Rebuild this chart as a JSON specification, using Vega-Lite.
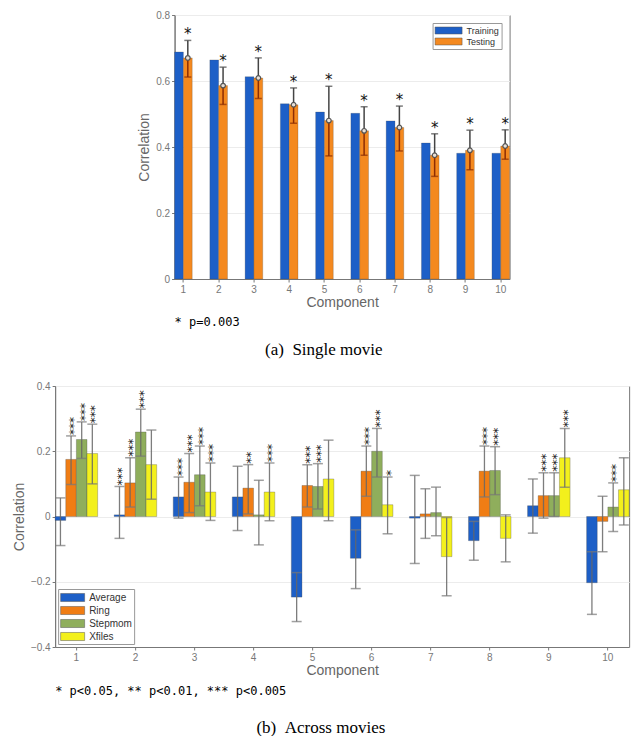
{
  "$schema": "https://vega.github.io/schema/vega-lite/v6.json",
  "padding": {"top": 9, "left": 11, "right": 4, "bottom": 0},
  "center": true,
  "spacing": 22,
  "resolve": {"scale": {"x": "independent", "y": "independent", "color": "independent", "xOffset": "independent"}, "legend": {"color": "independent"}, "axis": {"x": "independent", "y": "independent"}},
  "config": {
    "font": "Liberation Sans",
    "view": {"stroke": "#777", "strokeWidth": 1},
    "axis": {"domainColor": "#777", "tickColor": "#777", "labelColor": "#777", "labelFontSize": 10, "labelFont": "Liberation Sans", "titleColor": "#666", "titleFontSize": 14, "titleFontWeight": "normal", "titleFont": "Liberation Sans", "tickSize": 3, "labelPadding": 2, "gridColor": "#ececec"},
    "axisX": {"grid": false, "labelAngle": 0, "titlePadding": 1},
    "axisY": {"grid": true, "titlePadding": 4},
    "legend": {"labelFont": "Liberation Sans", "labelColor": "#333", "strokeColor": "#999", "fillColor": "white", "padding": 2, "rowPadding": 1, "symbolStrokeWidth": 0.5, "symbolStrokeColor": "#555"},
    "title": {"fontWeight": "normal"}
  },
  "vconcat": [
    {
      "title": {"text": "(a)\u2002Single movie", "orient": "bottom", "anchor": "middle", "font": "Liberation Serif", "fontSize": 17, "color": "black", "offset": 13},
      "resolve": {"scale": {"color": "independent"}, "legend": {"color": "independent"}},
      "vconcat": [
        {
          "width": 335,
          "height": 264,
          "title": {"text": "* p=0.003", "orient": "bottom", "anchor": "start", "frame": "group", "font": "DejaVu Sans Mono", "fontSize": 12, "color": "black", "offset": 8},
          "data": {"values": [
            {"comp": 1, "Series": "Training", "value": 0.688},
            {"comp": 2, "Series": "Training", "value": 0.664},
            {"comp": 3, "Series": "Training", "value": 0.613},
            {"comp": 4, "Series": "Training", "value": 0.531},
            {"comp": 5, "Series": "Training", "value": 0.506},
            {"comp": 6, "Series": "Training", "value": 0.502},
            {"comp": 7, "Series": "Training", "value": 0.479},
            {"comp": 8, "Series": "Training", "value": 0.412},
            {"comp": 9, "Series": "Training", "value": 0.381},
            {"comp": 10, "Series": "Training", "value": 0.381},
            {"comp": 1, "Series": "Testing", "value": 0.670, "lo": 0.612, "hi": 0.723, "sig": "*"},
            {"comp": 2, "Series": "Testing", "value": 0.586, "lo": 0.529, "hi": 0.642, "sig": "*"},
            {"comp": 3, "Series": "Testing", "value": 0.609, "lo": 0.547, "hi": 0.670, "sig": "*"},
            {"comp": 4, "Series": "Testing", "value": 0.528, "lo": 0.472, "hi": 0.579, "sig": "*"},
            {"comp": 5, "Series": "Testing", "value": 0.480, "lo": 0.373, "hi": 0.584, "sig": "*"},
            {"comp": 6, "Series": "Testing", "value": 0.449, "lo": 0.375, "hi": 0.522, "sig": "*"},
            {"comp": 7, "Series": "Testing", "value": 0.459, "lo": 0.388, "hi": 0.524, "sig": "*"},
            {"comp": 8, "Series": "Testing", "value": 0.375, "lo": 0.311, "hi": 0.440, "sig": "*"},
            {"comp": 9, "Series": "Testing", "value": 0.390, "lo": 0.331, "hi": 0.451, "sig": "*"},
            {"comp": 10, "Series": "Testing", "value": 0.403, "lo": 0.363, "hi": 0.452, "sig": "*"}
          ]},
          "encoding": {
            "x": {"field": "comp", "type": "ordinal", "scale": {"paddingInner": 0.5, "paddingOuter": 0}, "axis": {"title": "Component"}},
            "xOffset": {"field": "Series", "type": "nominal", "scale": {"domain": ["Training", "Testing"]}}
          },
          "layer": [
            {
              "mark": {"type": "bar", "stroke": "#444", "strokeWidth": 0.4, "strokeOpacity": 0.6},
              "encoding": {
                "y": {"field": "value", "type": "quantitative", "title": "Correlation", "scale": {"domain": [0, 0.8], "nice": false}, "axis": {"values": [0, 0.1, 0.2, 0.3, 0.4, 0.5, 0.6, 0.7, 0.8], "format": "~g"}},
                "color": {"field": "Series", "type": "nominal", "scale": {"domain": ["Training", "Testing"], "range": ["#1d5fc7", "#f4891f"]}, "legend": {"title": null, "orient": "top-right", "offset": 8, "labelFontSize": 9, "symbolType": "M-1,-0.7H4.4V0.7H-1Z", "symbolSize": 100, "labelOffset": 21, "rowPadding": 0}}
              }
            },
            {
              "transform": [{"filter": "datum.Series === 'Testing'"}],
              "mark": {"type": "rule", "color": "#8c2d04", "strokeWidth": 1.5},
              "encoding": {"y": {"field": "lo", "type": "quantitative", "title": "Correlation"}, "y2": {"field": "value"}}
            },
            {
              "transform": [{"filter": "datum.Series === 'Testing'"}],
              "mark": {"type": "rule", "color": "#444", "strokeWidth": 1.5},
              "encoding": {"y": {"field": "value", "type": "quantitative", "title": "Correlation"}, "y2": {"field": "hi"}}
            },
            {
              "transform": [{"filter": "datum.Series === 'Testing'"}],
              "mark": {"type": "tick", "orient": "horizontal", "color": "#444", "size": 7, "thickness": 1.5},
              "encoding": {"y": {"field": "hi", "type": "quantitative", "title": "Correlation"}}
            },
            {
              "transform": [{"filter": "datum.Series === 'Testing'"}],
              "mark": {"type": "tick", "orient": "horizontal", "color": "#8c2d04", "size": 7, "thickness": 1.5},
              "encoding": {"y": {"field": "lo", "type": "quantitative", "title": "Correlation"}}
            },
            {
              "transform": [{"filter": "datum.Series === 'Testing'"}],
              "mark": {"type": "point", "shape": "circle", "filled": true, "fill": "#e8e0d8", "stroke": "#555", "strokeWidth": 1.2, "size": 22, "opacity": 1},
              "encoding": {"y": {"field": "value", "type": "quantitative", "title": "Correlation"}}
            },
            {
              "transform": [{"filter": "datum.Series === 'Testing'"}],
              "mark": {"type": "text", "font": "DejaVu Sans", "fontSize": 15, "color": "#111", "baseline": "alphabetic", "dy": -1},
              "encoding": {"y": {"field": "hi", "type": "quantitative", "title": "Correlation"}, "text": {"field": "sig"}}
            }
          ]
        }
      ]
    },
    {
      "title": {"text": "(b)\u2002Across movies", "orient": "bottom", "anchor": "middle", "font": "Liberation Serif", "fontSize": 17, "color": "black", "offset": 22},
      "resolve": {"scale": {"color": "independent"}, "legend": {"color": "independent"}},
      "vconcat": [
        {
          "width": 574,
          "height": 261,
          "title": {"text": "* p<0.05, ** p<0.01, *** p<0.005", "orient": "bottom", "anchor": "start", "frame": "group", "font": "DejaVu Sans Mono", "fontSize": 12, "color": "black", "offset": 9},
          "data": {"values": [
            {"comp": 1, "Movie": "Average", "value": -0.012, "lo": -0.089, "hi": 0.057, "sig": ""},
            {"comp": 1, "Movie": "Ring", "value": 0.175, "lo": 0.098, "hi": 0.247, "sig": "***"},
            {"comp": 1, "Movie": "Stepmom", "value": 0.236, "lo": 0.178, "hi": 0.290, "sig": "***"},
            {"comp": 1, "Movie": "Xfiles", "value": 0.193, "lo": 0.100, "hi": 0.283, "sig": "***"},
            {"comp": 2, "Movie": "Average", "value": 0.005, "lo": -0.067, "hi": 0.092, "sig": "***"},
            {"comp": 2, "Movie": "Ring", "value": 0.103, "lo": 0.029, "hi": 0.180, "sig": "***"},
            {"comp": 2, "Movie": "Stepmom", "value": 0.259, "lo": 0.185, "hi": 0.329, "sig": "***"},
            {"comp": 2, "Movie": "Xfiles", "value": 0.159, "lo": 0.053, "hi": 0.265, "sig": ""},
            {"comp": 3, "Movie": "Average", "value": 0.060, "lo": -0.005, "hi": 0.121, "sig": "***"},
            {"comp": 3, "Movie": "Ring", "value": 0.105, "lo": 0.012, "hi": 0.193, "sig": "***"},
            {"comp": 3, "Movie": "Stepmom", "value": 0.128, "lo": 0.033, "hi": 0.216, "sig": "***"},
            {"comp": 3, "Movie": "Xfiles", "value": 0.075, "lo": -0.012, "hi": 0.164, "sig": "***"},
            {"comp": 4, "Movie": "Average", "value": 0.060, "lo": -0.043, "hi": 0.154, "sig": ""},
            {"comp": 4, "Movie": "Ring", "value": 0.087, "lo": 0.008, "hi": 0.159, "sig": "**"},
            {"comp": 4, "Movie": "Stepmom", "value": 0.005, "lo": -0.087, "hi": 0.111, "sig": ""},
            {"comp": 4, "Movie": "Xfiles", "value": 0.075, "lo": -0.013, "hi": 0.164, "sig": "***"},
            {"comp": 5, "Movie": "Average", "value": -0.247, "lo": -0.322, "hi": -0.172, "sig": ""},
            {"comp": 5, "Movie": "Ring", "value": 0.095, "lo": 0.029, "hi": 0.159, "sig": "***"},
            {"comp": 5, "Movie": "Stepmom", "value": 0.092, "lo": 0.023, "hi": 0.162, "sig": "***"},
            {"comp": 5, "Movie": "Xfiles", "value": 0.115, "lo": -0.013, "hi": 0.234, "sig": ""},
            {"comp": 6, "Movie": "Average", "value": -0.128, "lo": -0.221, "hi": -0.041, "sig": ""},
            {"comp": 6, "Movie": "Ring", "value": 0.139, "lo": 0.062, "hi": 0.216, "sig": "***"},
            {"comp": 6, "Movie": "Stepmom", "value": 0.200, "lo": 0.121, "hi": 0.270, "sig": "***"},
            {"comp": 6, "Movie": "Xfiles", "value": 0.036, "lo": -0.053, "hi": 0.121, "sig": "*"},
            {"comp": 7, "Movie": "Average", "value": -0.005, "lo": -0.144, "hi": 0.126, "sig": ""},
            {"comp": 7, "Movie": "Ring", "value": 0.008, "lo": -0.067, "hi": 0.085, "sig": ""},
            {"comp": 7, "Movie": "Stepmom", "value": 0.012, "lo": -0.059, "hi": 0.090, "sig": ""},
            {"comp": 7, "Movie": "Xfiles", "value": -0.123, "lo": -0.243, "hi": -0.003, "sig": ""},
            {"comp": 8, "Movie": "Average", "value": -0.074, "lo": -0.134, "hi": -0.015, "sig": ""},
            {"comp": 8, "Movie": "Ring", "value": 0.139, "lo": 0.060, "hi": 0.216, "sig": "***"},
            {"comp": 8, "Movie": "Stepmom", "value": 0.141, "lo": 0.067, "hi": 0.214, "sig": "***"},
            {"comp": 8, "Movie": "Xfiles", "value": -0.067, "lo": -0.139, "hi": 0.005, "sig": ""},
            {"comp": 9, "Movie": "Average", "value": 0.033, "lo": -0.051, "hi": 0.115, "sig": ""},
            {"comp": 9, "Movie": "Ring", "value": 0.064, "lo": -0.005, "hi": 0.134, "sig": "***"},
            {"comp": 9, "Movie": "Stepmom", "value": 0.064, "lo": 0.000, "hi": 0.134, "sig": "***"},
            {"comp": 9, "Movie": "Xfiles", "value": 0.180, "lo": 0.090, "hi": 0.270, "sig": "***"},
            {"comp": 10, "Movie": "Average", "value": -0.203, "lo": -0.300, "hi": -0.108, "sig": ""},
            {"comp": 10, "Movie": "Ring", "value": -0.015, "lo": -0.108, "hi": 0.062, "sig": ""},
            {"comp": 10, "Movie": "Stepmom", "value": 0.029, "lo": -0.046, "hi": 0.103, "sig": "***"},
            {"comp": 10, "Movie": "Xfiles", "value": 0.082, "lo": -0.026, "hi": 0.180, "sig": ""}
          ]},
          "encoding": {
            "x": {"field": "comp", "type": "ordinal", "scale": {"paddingInner": 0.28, "paddingOuter": 0}, "axis": {"title": "Component"}},
            "xOffset": {"field": "Movie", "type": "nominal", "scale": {"domain": ["Average", "Ring", "Stepmom", "Xfiles"]}}
          },
          "layer": [
            {
              "mark": {"type": "bar", "stroke": "#444", "strokeWidth": 0.5, "strokeOpacity": 0.6},
              "encoding": {
                "y": {"field": "value", "type": "quantitative", "title": "Correlation", "scale": {"domain": [-0.4, 0.4], "nice": false}, "axis": {"values": [-0.4, -0.3, -0.2, -0.1, 0, 0.1, 0.2, 0.3, 0.4], "format": "~g"}},
                "color": {"field": "Movie", "type": "nominal", "scale": {"domain": ["Average", "Ring", "Stepmom", "Xfiles"], "range": ["#1d5fc7", "#f07d14", "#8fae5c", "#f3f01c"]}, "legend": {"title": null, "orient": "bottom-left", "offset": 3, "labelFontSize": 10, "symbolType": "M-1,-0.67H3V0.67H-1Z", "symbolSize": 144, "labelOffset": 16, "rowPadding": 1}}
              }
            },
            {
              "mark": {"type": "rule", "color": "#666", "strokeWidth": 1.3, "opacity": 0.85},
              "encoding": {"y": {"field": "lo", "type": "quantitative", "title": "Correlation"}, "y2": {"field": "hi"}}
            },
            {
              "mark": {"type": "tick", "orient": "horizontal", "color": "#777", "size": 10, "thickness": 1.5},
              "encoding": {"y": {"field": "hi", "type": "quantitative", "title": "Correlation"}}
            },
            {
              "mark": {"type": "tick", "orient": "horizontal", "color": "#777", "size": 10, "thickness": 1.5},
              "encoding": {"y": {"field": "lo", "type": "quantitative", "title": "Correlation"}}
            },
            {
              "transform": [{"filter": "datum.sig !== ''"}],
              "mark": {"type": "text", "font": "DejaVu Sans", "fontSize": 12, "color": "#111", "angle": 270, "align": "left", "baseline": "middle", "dx": 1, "dy": 3},
              "encoding": {"y": {"field": "hi", "type": "quantitative", "title": "Correlation"}, "text": {"field": "sig"}}
            }
          ]
        }
      ]
    }
  ]
}
